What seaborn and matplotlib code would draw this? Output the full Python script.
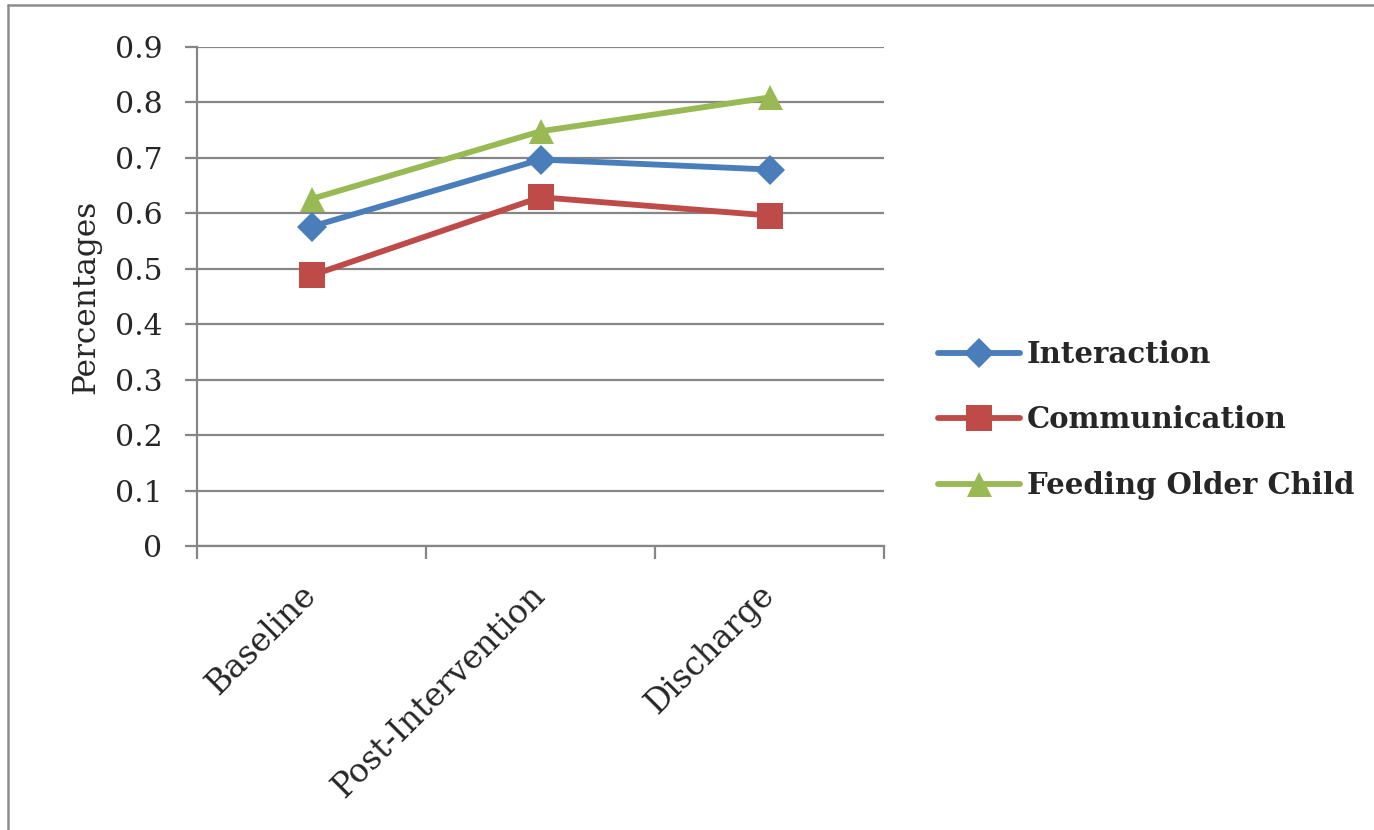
import matplotlib
matplotlib.use("Agg")
import matplotlib.pyplot as plt
from matplotlib.lines import Line2D
from matplotlib.ticker import FixedLocator, NullFormatter
import seaborn as sns
import pandas as pd

# Phases of the study and the share of each behaviour at every phase
phases = ["Baseline", "Post-Intervention", "Discharge"]
interaction = [0.576, 0.697, 0.679]
communication = [0.488, 0.629, 0.596]
feeding_older_child = [0.626, 0.748, 0.809]
y_ticks = [0, 0.1, 0.2, 0.3, 0.4, 0.5, 0.6, 0.7, 0.8, 0.9]

series = {
    "Interaction": interaction,
    "Communication": communication,
    "Feeding Older Child": feeding_older_child,
}
df = pd.DataFrame(
    [(p, name, v) for name, vals in series.items() for p, v in zip(phases, vals)],
    columns=["Phase", "Measure", "Value"],
)

palette = {"Interaction": "#4A7EBB", "Communication": "#BE4B48", "Feeding Older Child": "#98B954"}
markers = {"Interaction": "D", "Communication": "s", "Feeding Older Child": "^"}
msizes = {"Interaction": 15.5, "Communication": 19, "Feeding Older Child": 18}

sns.set_theme(style="white")
plt.rcParams["font.family"] = ["DejaVu Serif"]

fig = plt.figure(figsize=(13.74, 8.30), dpi=100)
ax = fig.add_axes([197 / 1374, 1 - 546 / 830, (884 - 197) / 1374, (546 - 47) / 830])

grid_col = "#868686"
for name in series:
    sub = df[df["Measure"] == name]
    sns.lineplot(
        data=sub, x="Phase", y="Value", ax=ax, color=palette[name],
        marker=markers[name], markersize=msizes[name], markeredgewidth=0,
        linewidth=4.2, sort=False, legend=False, zorder=3,
    )

ax.set_xlim(-0.5, len(phases) - 0.5)
ax.set_ylim(0, 0.9)
ax.set_yticks(y_ticks)
ax.set_yticklabels([f"{t:g}" for t in y_ticks], fontsize=21.5)
ax.yaxis.grid(True, color=grid_col, linewidth=1.6)
ax.set_axisbelow(True)

# category labels at centres, tick marks between categories
ax.set_xticks(range(len(phases)))
ax.set_xticklabels(phases, rotation=45, ha="right", va="center",
                   rotation_mode="anchor", fontsize=23.5)
ax.xaxis.set_minor_locator(FixedLocator([i - 0.5 for i in range(len(phases) + 1)]))
ax.xaxis.set_minor_formatter(NullFormatter())
ax.tick_params(axis="x", which="major", length=0, pad=32)
ax.tick_params(axis="x", which="minor", length=9, width=1.6, color=grid_col, direction="out", bottom=True)
ax.tick_params(axis="y", which="major", length=9, width=1.6, color=grid_col, direction="out", left=True, pad=16)

for side in ["top", "right"]:
    ax.spines[side].set_visible(False)
for side in ["left", "bottom"]:
    ax.spines[side].set_color(grid_col)
    ax.spines[side].set_linewidth(1.6)

ax.set_xlabel("")
ax.set_ylabel("Percentages", fontsize=22.5, labelpad=10)

handles = [
    Line2D([], [], color=palette[n], marker=markers[n], markersize=msizes[n],
           markeredgewidth=0, linewidth=4.2)
    for n in series
]
fig.legend(handles, list(series.keys()), loc="center left",
           bbox_to_anchor=(938 / 1374, 1 - 420 / 830), bbox_transform=fig.transFigure,
           frameon=False, prop={"size": 21, "weight": "bold"},
           handlelength=2.8, handletextpad=0.25, labelspacing=1.25,
           borderpad=0, borderaxespad=0)

# chart area border
fig.add_artist(Line2D([8 / 1374, 8 / 1374], [0, 1 - 5 / 830], transform=fig.transFigure,
                      color="#8C8C8C", linewidth=1.8))
fig.add_artist(Line2D([8 / 1374, 1], [1 - 5 / 830, 1 - 5 / 830], transform=fig.transFigure,
                      color="#8C8C8C", linewidth=1.8))

fig.savefig("out.png", dpi=100, facecolor="white")
